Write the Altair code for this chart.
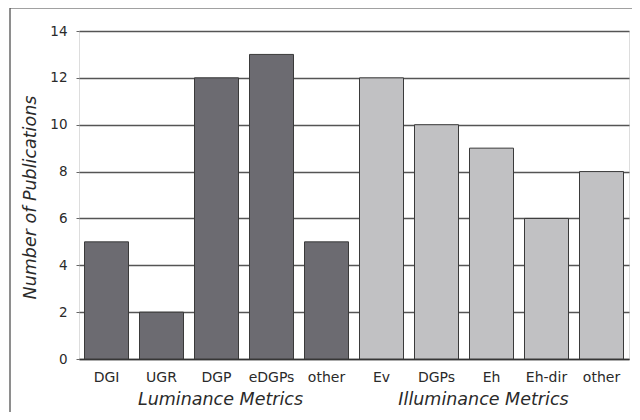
import altair as alt
import pandas as pd

categories = ["DGI", "UGR", "DGP", "eDGPs", "other ", "Ev", "DGPs", "Eh", "Eh-dir", "other"]
labels = ["DGI", "UGR", "DGP", "eDGPs", "other", "Ev", "DGPs", "Eh", "Eh-dir", "other"]
values = [5, 2, 12, 13, 5, 12, 10, 9, 6, 8]
groups = ["Luminance Metrics"] * 5 + ["Illuminance Metrics"] * 5
group_names = ["Luminance Metrics", "Illuminance Metrics"]
group_anchor = ["DGP", "Eh"]
y_ticks = [0, 2, 4, 6, 8, 10, 12, 14]

df = pd.DataFrame({"cat": categories, "label": labels, "value": values, "group": groups})
gdf = pd.DataFrame({"group": group_names, "cat": group_anchor})

FONT = "DejaVu Sans"
xscale = alt.Scale(domain=categories, paddingInner=0.2, paddingOuter=0.1)

base = alt.Chart(df)

bars = base.mark_bar(stroke="#3a3a3a", strokeWidth=1).encode(
    x=alt.X("cat:N", scale=xscale, sort=categories,
            axis=alt.Axis(title=None, labelExpr="trim(datum.label)", labelAngle=0,
                          ticks=False, labelPadding=11, labelFontSize=14,
                          labelColor="#2a2a2a", labelFont=FONT,
                          domainColor="#333333", domainWidth=1.5, grid=False)),
    y=alt.Y("value:Q", scale=alt.Scale(domain=[0, 14]),
            axis=alt.Axis(values=y_ticks, title="Number of Publications",
                          titleFontStyle="italic", titleFontWeight="normal",
                          titleFontSize=17.5, titleFont=FONT, titleColor="#2a2a2a",
                          titleAngle=-90, titleX=-49, titleY=166,
                          titleAlign="center", titleBaseline="middle",
                          labelFontSize=13.5, labelFont=FONT, labelColor="#2a2a2a",
                          labelPadding=9, tickSize=3, tickColor="#666666",
                          grid=True, gridColor="#555555", gridWidth=1.3,
                          domain=False)),
    color=alt.Color("group:N", scale=alt.Scale(domain=group_names,
                                               range=["#6c6b71", "#c1c1c3"]),
                    legend=None),
)

glab1 = alt.Chart(gdf).transform_filter(alt.datum.group == group_names[0]).mark_text(
    fontStyle="italic", fontSize=17.5, font=FONT, color="#2a2a2a", baseline="middle", dx=4
).encode(x=alt.X("cat:N", scale=xscale), y=alt.value(369), text="group:N")

glab2 = alt.Chart(gdf).transform_filter(alt.datum.group == group_names[1]).mark_text(
    fontStyle="italic", fontSize=17.5, font=FONT, color="#2a2a2a", baseline="middle", dx=-8
).encode(x=alt.X("cat:N", scale=xscale), y=alt.value(369), text="group:N")

border = alt.Chart(pd.DataFrame({"a": [0]})).mark_rect(
    fill=None, stroke="#444444", strokeWidth=1.2
).encode(x=alt.value(-69), x2=alt.value(575), y=alt.value(-23), y2=alt.value(400))

chart = alt.layer(border, bars, glab1, glab2).properties(
    width=550, height=328,
    autosize=alt.AutoSizeParams(type="none"),
    padding={"left": 71, "top": 23, "right": 3, "bottom": 53},
).configure_view(stroke="#7a7a7a", strokeWidth=1.5).configure(background="white")

chart.save("out.html", embed_options={"renderer": "svg", "actions": False})
